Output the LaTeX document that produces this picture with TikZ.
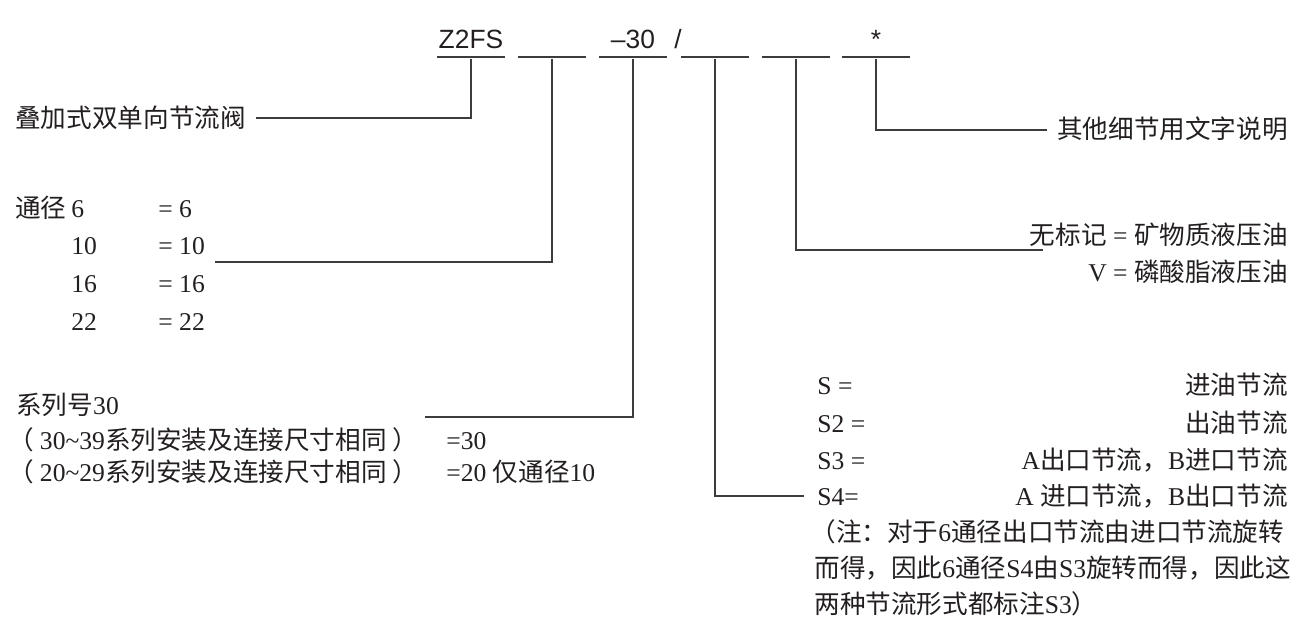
\documentclass[tikz,border=0pt]{standalone}
\usepackage{fontspec}
\setmainfont{Liberation Serif}
\setsansfont{Liberation Sans}
\newfontfamily\cjk{Noto Sans CJK SC}
\usetikzlibrary{positioning}
\definecolor{inkc}{HTML}{231F20}
\definecolor{linec}{HTML}{3C3C3C}

\begin{document}
\begin{tikzpicture}
      [ x=0.5pt, y=-0.5pt
        , every node/.style={text=inkc, font=\fontsize{12.8}{15}\selectfont}
        , lbl/.style={inner sep=0pt, text height=10pt, text depth=1pt}
        , slot/.style={fill=linec, inner sep=0pt, minimum width=34pt, minimum height=1.4pt}
        , code/.style={font=\sffamily\fontsize{13.2}{15}\selectfont, inner sep=0pt, anchor=base}
        , lead/.style={draw=linec, line width=0.8pt}
        , tolbl/.style={lead, shorten >=5pt}
      ]
      \useasboundingbox (0,0) rectangle (1300,642);
      % code slots
      \node (s1) [slot] at (471,57) {};
      \node (s2) [slot] at (552,57) {};
      \node (s3) [slot] at (633,57) {};
      \node (s4) [slot] at (715,57) {};
      \node (s5) [slot] at (796,57) {};
      \node (s6) [slot] at (876,57) {};
      \node (z2fs) [code] at ([yshift=4pt]s1) {Z2FS};
      \node (ser30) [code] at ([yshift=4pt]s3) {–30};
      \node (slash) [code] at (678,49) {/};
      \node (star) [code] at ([yshift=4pt]s6) {*};

      % left side
      \node (valve) [lbl, anchor=west] at (15,118) {\cjk 叠加式双单向节流阀};
      \node (dn) [lbl, anchor=west] at (15,208) {\cjk 通径};
      \node (n6) [lbl, anchor=west] at (71,208) {6};
      \node (n10) [lbl, below right=7.5pt and 0pt of n6.south west] {10};
      \node (n16) [lbl, below right=7.5pt and 0pt of n10.south west] {16};
      \node (n22) [lbl, below right=7.5pt and 0pt of n16.south west] {22};
      \node (e6) [lbl, anchor=west] at (158,208) {= 6};
      \node (e10) [lbl, below right=7.5pt and 0pt of e6.south west] {= 10};
      \node (e16) [lbl, below right=7.5pt and 0pt of e10.south west] {= 16};
      \node (e22) [lbl, below right=7.5pt and 0pt of e16.south west] {= 22};
      \coordinate (dia) at (215,262);

      \node (series) [lbl, anchor=west] at (16,405) {{\cjk 系列号}30};
      \node (r30) [lbl, anchor=west] at (8,440) {{\cjk （}\hspace{3pt}30\textasciitilde 39{\cjk 系列安装及连接尺寸相同}\hspace{3pt}{\cjk ）}};
      \node (r20) [lbl, below right=5pt and 0pt of r30.south west] {{\cjk （}\hspace{3pt}20\textasciitilde 29{\cjk 系列安装及连接尺寸相同}\hspace{3pt}{\cjk ）}};
      \node (e30) [lbl, anchor=west] at (446,440) {=30};
      \node (e20) [lbl, anchor=west] at (446,472) {=20 {\cjk 仅通径}10};
      \coordinate (ser) at (425,417);

      % right side
      \node (other) [lbl, anchor=east] at (1288,130) {\cjk 其他细节用文字说明};
      \node (mineral) [lbl, anchor=east] at (1288,235) {{\cjk 无标记} = {\cjk 矿物质液压油}};
      \node (phos) [lbl, anchor=east] at (1288,272) {V = {\cjk 磷酸脂液压油}};
      \coordinate (oil) at (1043,250);

      \node (sA) [lbl, anchor=west] at (817,385) {S =};
      \node (sB) [lbl, anchor=west] at (817,423) {S2 =};
      \node (sC) [lbl, anchor=west] at (817,460) {S3 =};
      \node (sD) [lbl, anchor=west] at (817,496) {S4=};
      \node (tA) [lbl, anchor=east] at (1288,385) {\cjk 进油节流};
      \node (tB) [lbl, anchor=east] at (1288,423) {\cjk 出油节流};
      \node (tC) [lbl, anchor=east] at (1288,460) {A{\cjk 出口节流，}B{\cjk 进口节流}};
      \node (tD) [lbl, anchor=east] at (1288,496) {A {\cjk 进口节流，}B{\cjk 出口节流}};
      \node (note1) [lbl, anchor=west] at (810,532) {{\cjk （注：对于}6{\cjk 通径出口节流由进口节流旋转}};
      \node (note2) [lbl, anchor=west] at (814,568) {{\cjk 而得，因此}6{\cjk 通径}S4{\cjk 由}S3{\cjk 旋转而得，因此这}};
      \node (note3) [lbl, anchor=west] at (814,604) {{\cjk 两种节流形式都标注}S3{\cjk ）}};

      \draw[tolbl] (s1) |- (valve);
      \draw[lead] (s2) |- (dia);
      \draw[lead] (s3) |- (ser);
      \draw[tolbl, shorten >=6.5pt] (s4) |- (sD);
      \draw[lead] (s5) |- (oil);
      \draw[tolbl] (s6) |- (other);
    \end{tikzpicture}
\end{document}
